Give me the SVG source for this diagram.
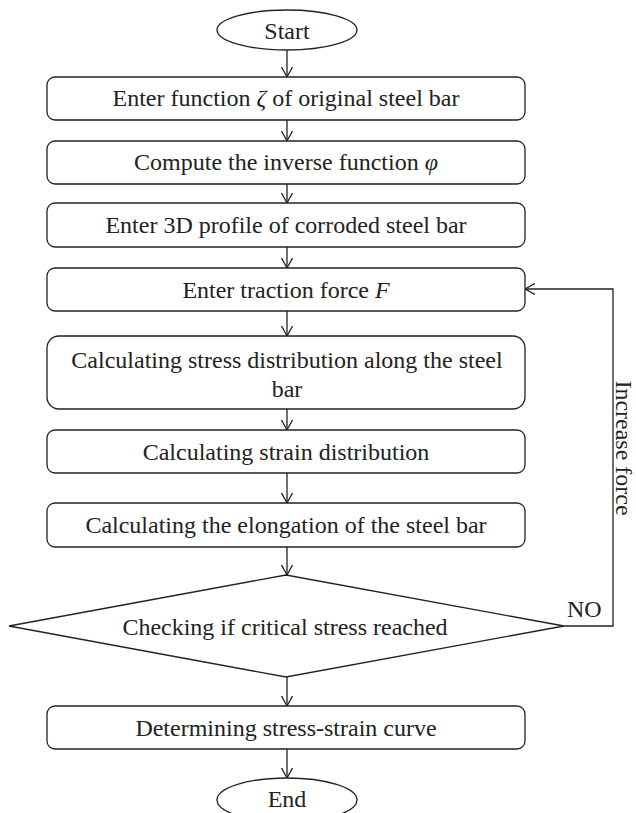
<svg xmlns="http://www.w3.org/2000/svg" width="636" height="813" viewBox="0 0 636 813">
<style>
.s{fill:#fff;stroke:#222;stroke-width:1.3}
.t{font-family:"Liberation Serif","Times New Roman",serif;font-size:24px;fill:#222;text-anchor:middle}
.c{fill:none;stroke:#222;stroke-width:1.3}
</style>
<defs>
<marker id="a" markerWidth="12" markerHeight="12" refX="10" refY="6" orient="auto" markerUnits="userSpaceOnUse">
<polyline points="0,0.5 10,6 0,11.5" fill="none" stroke="#222" stroke-width="1.3"/>
</marker>
</defs>
<rect width="636" height="813" fill="#fff"/>
<g id="connectors">
<line class="c" x1="287" y1="50" x2="287" y2="77" marker-end="url(#a)"/>
<line class="c" x1="287" y1="120" x2="287" y2="141" marker-end="url(#a)"/>
<line class="c" x1="287" y1="184" x2="287" y2="203" marker-end="url(#a)"/>
<line class="c" x1="287" y1="247" x2="287" y2="268" marker-end="url(#a)"/>
<line class="c" x1="287" y1="311" x2="287" y2="336" marker-end="url(#a)"/>
<line class="c" x1="287" y1="409" x2="287" y2="430" marker-end="url(#a)"/>
<line class="c" x1="287" y1="473" x2="287" y2="503" marker-end="url(#a)"/>
<line class="c" x1="287" y1="547" x2="287" y2="575" marker-end="url(#a)"/>
<line class="c" x1="287" y1="677" x2="287" y2="706" marker-end="url(#a)"/>
<line class="c" x1="287" y1="749" x2="287" y2="778" marker-end="url(#a)"/>
<polyline class="c" points="564,626 613,626 613,289 525,289" marker-end="url(#a)"/>
<text class="t" style="text-anchor:start" x="567" y="617">NO</text>
<text class="t" transform="translate(616,448) rotate(90)">Increase force</text>
</g>
<g id="start">
<ellipse class="s" cx="287" cy="30" rx="70" ry="20"/>
<text class="t" x="287" y="39">Start</text>
</g>
<g id="n1">
<rect class="s" x="47" y="77" width="478" height="43" rx="8"/>
<text class="t" x="286" y="106">Enter function <tspan font-style="italic">ζ</tspan> of original steel bar</text>
</g>
<g id="n2">
<rect class="s" x="47" y="141" width="478" height="43" rx="8"/>
<text class="t" x="286" y="170">Compute the inverse function <tspan font-style="italic">φ</tspan></text>
</g>
<g id="n3">
<rect class="s" x="47" y="203" width="478" height="44" rx="8"/>
<text class="t" x="286" y="233">Enter 3D profile of corroded steel bar</text>
</g>
<g id="n4">
<rect class="s" x="47" y="268" width="478" height="43" rx="8"/>
<text class="t" x="286" y="298">Enter traction force <tspan font-style="italic">F</tspan></text>
</g>
<g id="n5">
<rect class="s" x="47" y="336" width="478" height="73" rx="12"/>
<text class="t" x="287" y="368">Calculating stress distribution along the steel</text>
<text class="t" x="287" y="397">bar</text>
</g>
<g id="n6">
<rect class="s" x="47" y="430" width="478" height="43" rx="8"/>
<text class="t" x="286" y="460">Calculating strain distribution</text>
</g>
<g id="n7">
<rect class="s" x="47" y="503" width="478" height="44" rx="8"/>
<text class="t" x="286" y="533">Calculating the elongation of the steel bar</text>
</g>
<g id="d1">
<polygon class="s" points="286,575 564,626 286,677 9,626"/>
<text class="t" x="285" y="635">Checking if critical stress reached</text>
</g>
<g id="n8">
<rect class="s" x="47" y="706" width="478" height="43" rx="8"/>
<text class="t" x="286" y="736">Determining stress-strain curve</text>
</g>
<g id="end">
<ellipse class="s" cx="287" cy="800" rx="70" ry="22"/>
<text class="t" x="287" y="807">End</text>
</g>
</svg>
